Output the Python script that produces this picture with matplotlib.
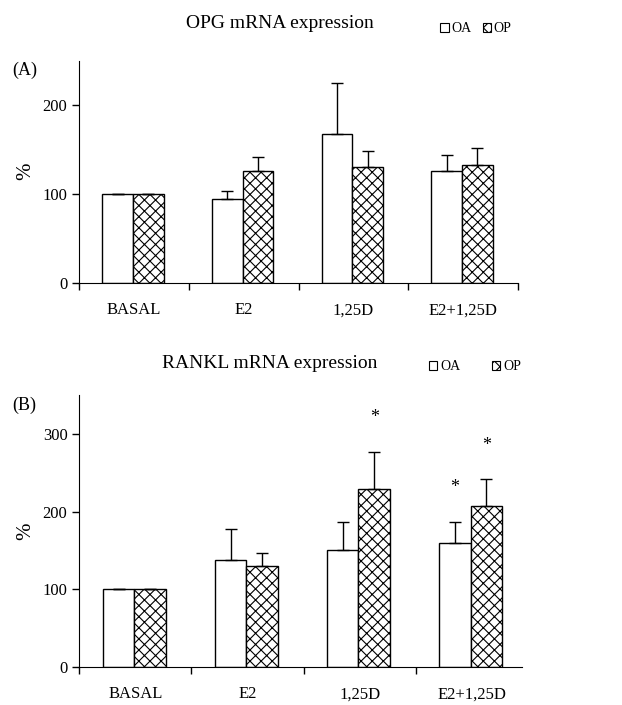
import numpy as np
import matplotlib
matplotlib.use('Agg')
import matplotlib.pyplot as plt
from matplotlib.patches import Patch

plt.rcParams['font.family'] = ['Liberation Serif', 'DejaVu Serif']
plt.rcParams['hatch.linewidth'] = 0.8

# data
categories = ['BASAL', 'E2', '1,25D', 'E2+1,25D']
opg_oa = [100, 94, 167, 126]
opg_oa_err = [0, 9, 58, 18]
opg_op = [100, 126, 130, 133]
opg_op_err = [0, 15, 18, 19]

rankl_oa = [100, 138, 150, 159]
rankl_oa_err = [0, 39, 37, 28]
rankl_op = [100, 130, 229, 207]
rankl_op_err = [0, 16, 48, 35]

# significance markers: (category index, series)
rankl_stars = [(2, 'OP'), (3, 'OA'), (3, 'OP')]


def draw_panel(ax, oa, oa_err, op, op_err, ylim, yticks, xmax, edge_ticks, stars=()):
    x = np.arange(len(categories))
    w = 0.28
    ax.bar(x - w / 2 - 0.01, oa, w, color='white', edgecolor='black', linewidth=1.0,
           yerr=[np.zeros(len(oa)), oa_err], capsize=4,
           error_kw=dict(elinewidth=1.0, capthick=1.0, ecolor='black'))
    ax.bar(x + w / 2 - 0.01, op, w, color='white', edgecolor='black', linewidth=1.0,
           hatch='xxx',
           yerr=[np.zeros(len(op)), op_err], capsize=4,
           error_kw=dict(elinewidth=1.0, capthick=1.0, ecolor='black'))
    for i, s in stars:
        if s == 'OA':
            xs, top = x[i] - w / 2 - 0.01, oa[i] + oa_err[i]
        else:
            xs, top = x[i] + w / 2 - 0.01, op[i] + op_err[i]
        ax.text(xs, top + ylim * 0.125, '*', ha='center', va='center', fontsize=13)

    ax.set_xlim(-0.5, xmax)
    ax.set_ylim(0, ylim)
    ax.set_yticks(yticks)
    ax.set_xticks(x)
    ax.set_xticklabels(categories, fontsize=12)
    ax.tick_params(axis='x', which='major', length=0, pad=14)
    ax.set_xticks(edge_ticks, minor=True)
    ax.tick_params(axis='x', which='minor', direction='out', length=5, width=1)
    ax.tick_params(axis='y', direction='out', length=5, width=1, labelsize=12)
    ax.spines['top'].set_visible(False)
    ax.spines['right'].set_visible(False)
    ax.set_ylabel('%', fontsize=15)
    ax.yaxis.set_label_coords(-0.1, 0.5)


fig = plt.figure(figsize=(6.22, 7.05), dpi=100)

ax1 = fig.add_axes([0.1275, 0.599, 0.705, 0.315])
draw_panel(ax1, opg_oa, opg_oa_err, opg_op, opg_op_err, 250, [0, 100, 200],
           3.5, [-0.5, 0.5, 1.5, 2.5, 3.5])

ax2 = fig.add_axes([0.1275, 0.0543, 0.712, 0.385])
draw_panel(ax2, rankl_oa, rankl_oa_err, rankl_op, rankl_op_err, 350, [0, 100, 200, 300],
           3.45, [-0.5, 0.5, 1.5, 2.5], stars=rankl_stars)

fig.text(280 / 622, 1 - 23 / 705, 'OPG mRNA expression', ha='center', va='center', fontsize=14)
fig.text(270 / 622, 1 - 363 / 705, 'RANKL mRNA expression', ha='center', va='center', fontsize=14)
fig.text(12 / 622, 1 - 70 / 705, '(A)', ha='left', va='center', fontsize=13)
fig.text(12 / 622, 1 - 405 / 705, '(B)', ha='left', va='center', fontsize=13)

handles = [Patch(facecolor='white', edgecolor='black', linewidth=0.8, label='OA'),
           Patch(facecolor='white', edgecolor='black', linewidth=0.8, hatch='xxx', label='OP')]
fig.legend(handles=handles, loc='center', bbox_to_anchor=(476 / 622, 1 - 29 / 705), ncol=2,
           frameon=False, fontsize=10, handlelength=0.6, handleheight=0.6,
           handletextpad=0.2, columnspacing=0.8, borderpad=0)
fig.legend(handles=handles, loc='center', bbox_to_anchor=(475 / 622, 1 - 367 / 705), ncol=2,
           frameon=False, fontsize=10, handlelength=0.6, handleheight=0.6,
           handletextpad=0.2, columnspacing=2.3, borderpad=0)

plt.savefig('out.png', dpi=100)
plt.close()
